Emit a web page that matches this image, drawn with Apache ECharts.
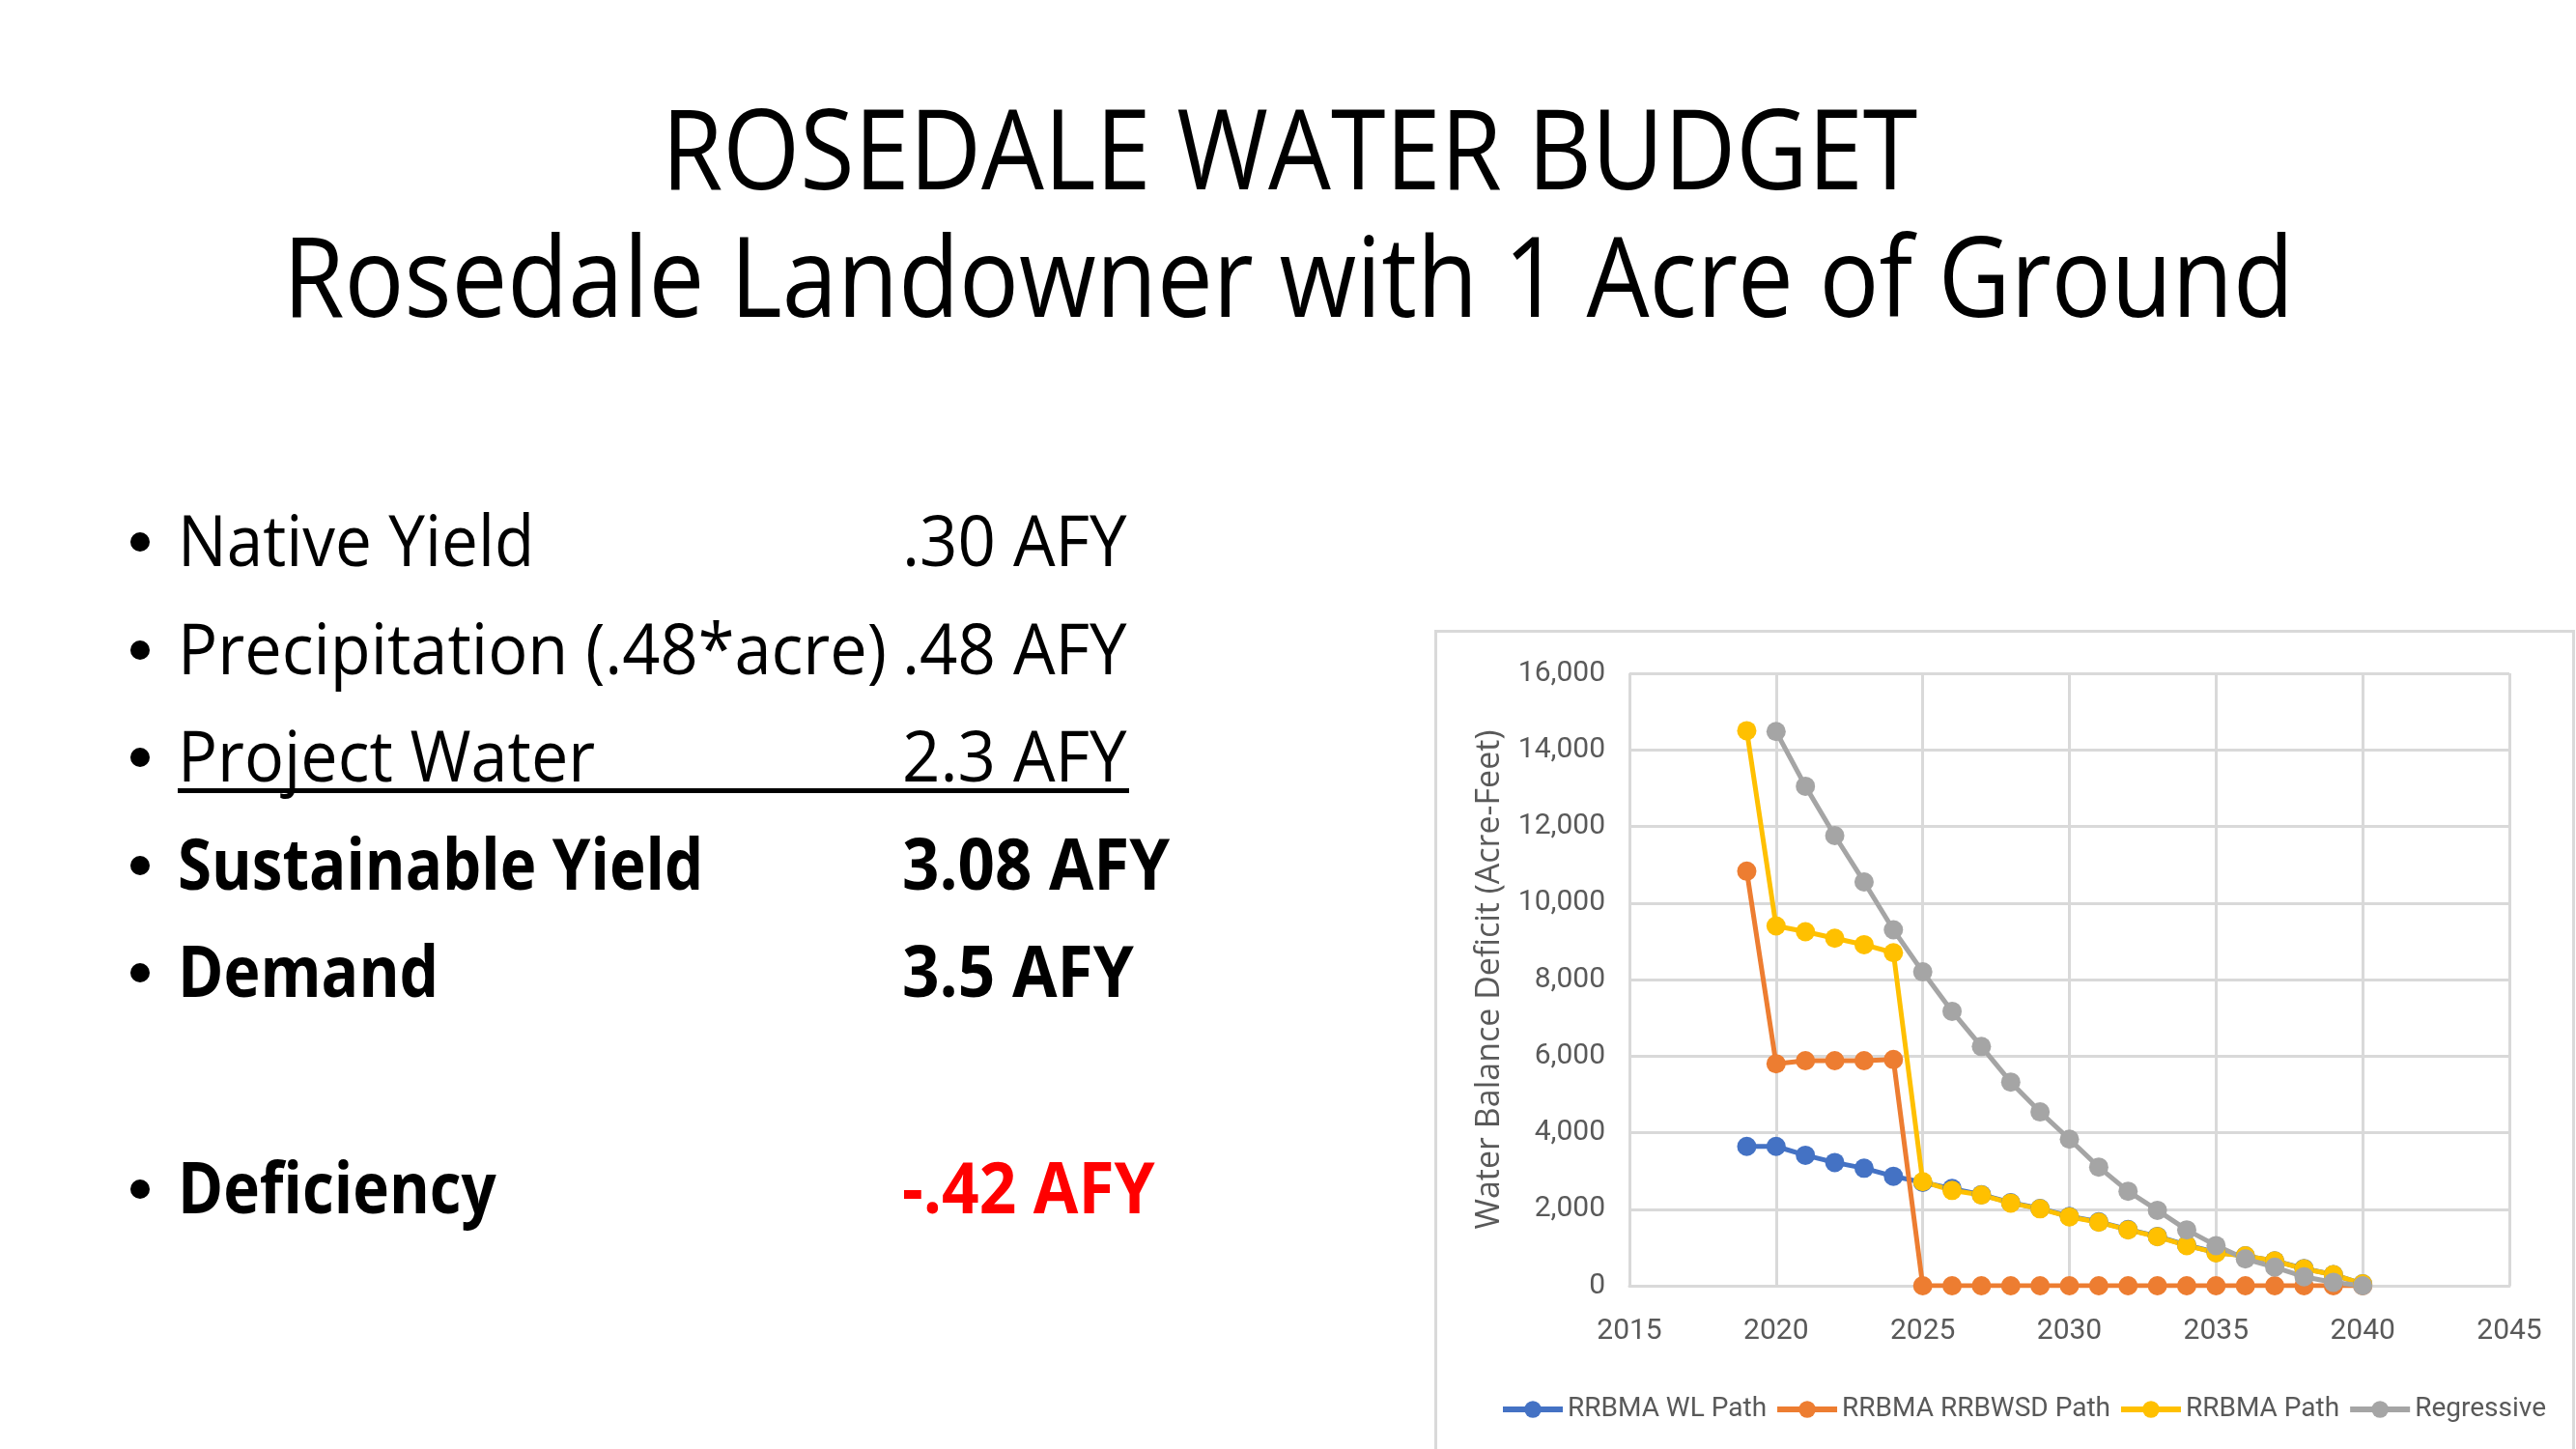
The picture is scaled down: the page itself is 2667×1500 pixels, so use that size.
<!DOCTYPE html>
<html>
<head>
<meta charset="utf-8">
<script src="https://cdn.jsdelivr.net/npm/echarts@6/dist/echarts.min.js"></script>
<style>
  html, body { margin: 0; padding: 0; background: #fff; }
  #page { position: relative; width: 2667px; height: 1500px; overflow: hidden; font-family: "Open Sans", sans-serif; color: #000; }
  .t { position: absolute; white-space: nowrap; line-height: 1; transform-origin: 0 0; }
  .title { font-size: 116px; }
  .row { font-size: 74px; }
  .b { font-weight: 700; }
  .dot { position: absolute; width: 20px; height: 20px; border-radius: 50%; background: #000; }
  #box { position: absolute; left: 1485px; top: 652px; width: 1181px; height: 900px; border: 3px solid #d9d9d9; box-sizing: border-box; }
  #chart { position: absolute; left: 0; top: 0; width: 2667px; height: 1500px; }
</style>
</head>
<body>
<div id="page">
  <div id="box"></div>
  <div id="chart"></div>
</div>
<script>
// chart data
var years = [2019, 2020, 2021, 2022, 2023, 2024, 2025, 2026, 2027, 2028, 2029, 2030, 2031, 2032, 2033, 2034, 2035, 2036, 2037, 2038, 2039, 2040];
var wlPath = [3640, 3640, 3410, 3220, 3070, 2860, 2700, 2540, 2380, 2170, 2020, 1810, 1670, 1470, 1290, 1060, 870, 780, 650, 450, 290, 50];
var rrbwsdPath = [10830, 5800, 5880, 5880, 5880, 5910, 0, 0, 0, 0, 0, 0, 0, 0, 0, 0, 0, 0, 0, 0, 0, 0];
var rrbmaPath = [14500, 9400, 9250, 9080, 8910, 8700, 2720, 2490, 2370, 2160, 2010, 1800, 1660, 1460, 1280, 1050, 860, 780, 650, 440, 290, 50];
var regressive = [null, 14480, 13050, 11760, 10550, 9300, 8200, 7170, 6250, 5320, 4540, 3830, 3100, 2470, 1970, 1460, 1050, 700, 485, 235, 90, 0];
var seriesNames = ['RRBMA WL Path', 'RRBMA RRBWSD Path', 'RRBMA Path', 'Regressive'];
var seriesColors = ['#4472C4', '#ED7D31', '#FFC000', '#A5A5A5'];

// slide text
var titles = ['ROSEDALE WATER BUDGET', 'Rosedale Landowner with 1 Acre of Ground'];
var labels = ['Native Yield', 'Precipitation (.48*acre)', 'Project Water', 'Sustainable Yield', 'Demand', 'Deficiency'];
var amounts = ['.30 AFY', '.48 AFY', '2.3 AFY', '3.08 AFY', '3.5 AFY', '-.42 AFY'];

var page = document.getElementById('page');

function addText(txt, cls, x, baseline, w, color) {
  var d = document.createElement('div');
  d.className = 't ' + cls;
  d.textContent = txt;
  page.appendChild(d);
  var fs = parseFloat(getComputedStyle(d).fontSize);
  d.style.left = x + 'px';
  d.style.top = (baseline - 0.888 * fs) + 'px';
  if (color) d.style.color = color;
  var s = w / d.offsetWidth;
  d.style.transform = 'scaleX(' + s + ')';
  return d;
}

// titles, centred
var t1w = 1300, t2w = 2082;
addText(titles[0], 'title', 1335 - t1w / 2, 196, t1w);
addText(titles[1], 'title', 1334 - t2w / 2, 328, t2w);

// bullet rows
var rowBase = [587, 699, 810, 922, 1033, 1257];
var labelW = [369, 734, 432, 544, 270, 330];
var amountW = [233, 233, 233, 277, 240, 262];
for (var i = 0; i < labels.length; i++) {
  var bold = i >= 3 ? ' b' : '';
  addText(labels[i], 'row' + bold, 184, rowBase[i], labelW[i]);
  addText(amounts[i], 'row' + bold, 934, rowBase[i], amountW[i], i == 5 ? '#FF0000' : null);
  var dot = document.createElement('div');
  dot.className = 'dot';
  dot.style.left = '135px';
  dot.style.top = (rowBase[i] - 36) + 'px';
  page.appendChild(dot);
}
// underline under the Project Water row
var ul = document.createElement('div');
ul.style.cssText = 'position:absolute;left:184px;top:816px;width:985px;height:5px;background:#000;';
page.appendChild(ul);

// chart
var myChart = echarts.init(document.getElementById('chart'));

var series = [];
var allData = [wlPath, rrbwsdPath, rrbmaPath, regressive];
for (var k = 0; k < allData.length; k++) {
  var pts = [];
  for (var j = 0; j < years.length; j++) {
    if (allData[k][j] != null) pts.push([years[j], allData[k][j]]);
  }
  series.push({
    name: seriesNames[k],
    type: 'line',
    data: pts,
    symbol: 'circle',
    symbolSize: 20,
    color: seriesColors[k],
    lineStyle: { width: 5, color: seriesColors[k] },
    itemStyle: { color: seriesColors[k] },
    animation: false
  });
}

var axisFont = 'Roboto';

var option = {
  animation: false,
  grid: { left: 1687, top: 697, right: 69, bottom: 169, containLabel: false },
  legend: {
    data: seriesNames,
    left: 1548,
    top: 1440,
    width: 1110,
    itemWidth: 62,
    itemHeight: 22,
    itemGap: 8,
    lineStyle: { width: 6 },
    textStyle: { fontFamily: axisFont, fontSize: 28, color: '#595959' }
  },
  xAxis: {
    type: 'value',
    min: 2015,
    max: 2045,
    interval: 5,
    axisLine: { show: true, lineStyle: { color: '#d9d9d9', width: 3 } },
    axisTick: { show: false },
    axisLabel: {
      margin: 32,
      fontFamily: axisFont,
      fontSize: 30,
      color: '#595959',
      formatter: function (v) { return String(v); }
    },
    splitLine: { show: true, lineStyle: { color: '#d9d9d9', width: 3 } }
  },
  yAxis: {
    type: 'value',
    min: 0,
    max: 16000,
    interval: 2000,
    name: 'Water Balance Deficit (Acre-Feet)',
    nameLocation: 'middle',
    nameRotate: 90,
    nameGap: 128,
    nameTextStyle: { fontFamily: 'Open Sans', fontSize: 34, color: '#595959' },
    axisLine: { show: false },
    axisTick: { show: false },
    axisLabel: {
      margin: 25,
      fontFamily: axisFont,
      fontSize: 30,
      color: '#595959',
      formatter: function (v) { return v.toLocaleString('en-US'); }
    },
    splitLine: { show: true, lineStyle: { color: '#d9d9d9', width: 3 } }
  },
  series: series
};

myChart.setOption(option);
</script>
</body>
</html>
